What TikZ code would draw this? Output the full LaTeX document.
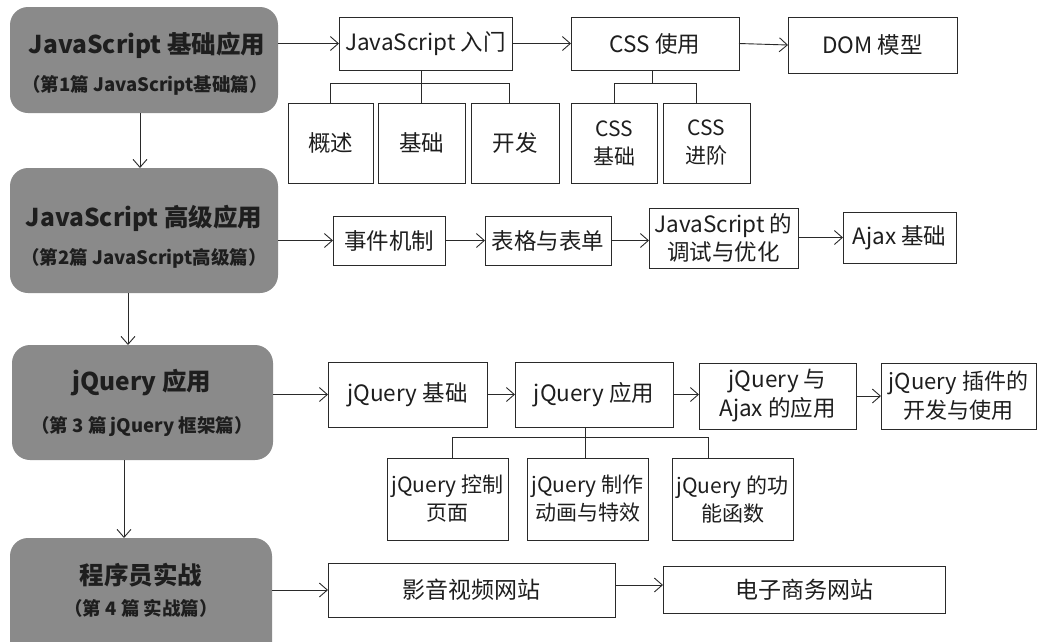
\documentclass[tikz,border=0pt]{standalone}
\usepackage{fontspec}
\setmainfont{Noto Sans CJK SC}
\usetikzlibrary{arrows.meta}
\definecolor{partgray}{HTML}{8A8A8A}
\definecolor{linec}{HTML}{2A2A2A}
\definecolor{txt}{HTML}{1E1E1E}
\tikzset{
  part/.style={rounded corners=18pt, fill=partgray, draw=none, inner sep=0pt, outer sep=0pt},
  ptexta/.style={text=txt, inner sep=0pt, font=\fontsize{24.5}{28}\bfseries},
  ptextb/.style={text=txt, inner sep=0pt, font=\fontsize{18.5}{22}\bfseries},
  wbox/.style={draw=linec, line width=0.9pt, fill=white, align=center, inner sep=0pt, outer sep=0pt, text=txt, font=\fontsize{22.5}{27}\selectfont},
  sbox/.style={wbox, font=\fontsize{21}{28}\selectfont},
  arr/.style={draw=linec, line width=0.9pt, -{Straight Barb[length=8pt,width=14pt,line width=0.9pt]}},
  ln/.style={draw=linec, line width=0.9pt}
}
\begin{document}
\begin{tikzpicture}[x=1pt,y=-1pt]
\useasboundingbox (0,0) rectangle (1037,641);
\fill[white] (0,0) rectangle (1037,641);

% part boxes
\node[part, minimum width=268pt, minimum height=106pt] (p1) at (144,60) {};
\node[ptexta] (p1a) at (147,45) {JavaScript 基础应用};
\node[ptextb] (p1b) at (145,85) {（第1篇 JavaScript基础篇）};
\node[part, minimum width=268pt, minimum height=125pt] (p2) at (144,230.5) {};
\node[ptexta] (p2a) at (144,218) {JavaScript 高级应用};
\node[ptextb] (p2b) at (144,258) {（第2篇 JavaScript高级篇）};
\node[part, minimum width=261pt, minimum height=115pt] (p3) at (142.5,402.5) {};
\node[ptexta] (p3a) at (142,383) {jQuery 应用};
\node[ptextb] (p3b) at (142,427) {（第 3 篇 jQuery 框架篇）};
\node[part, minimum width=262pt, minimum height=124pt] (p4) at (141,600) {};
\node[ptexta] (p4a) at (141,575) {程序员实战};
\node[ptextb] (p4b) at (141,608) {（第 4 篇 实战篇）};

\draw[arr] ([xshift=-4pt]p1.south) -- ([xshift=-4pt]p1.south |- p2.north);
\draw[arr] ([xshift=-16pt]p2.south) -- ([xshift=-16pt]p2.south |- p3.north);
\draw[arr] ([xshift=-18.5pt]p3.south) -- ([xshift=-18.5pt]p3.south |- p4.north);

% row 1
\node[wbox, minimum width=173pt, minimum height=53pt] (js) at (425.5,43.5) {JavaScript 入门};
\node[wbox, minimum width=168pt, minimum height=53pt] (css) at (655,43.5) {CSS 使用};
\node[wbox, minimum width=169pt, minimum height=56pt] (dom) at (872.5,45) {DOM 模型};
\node[wbox, minimum width=85pt, minimum height=80pt] (gs) at (330.5,143) {概述};
\node[wbox, minimum width=87pt, minimum height=80pt] (jc) at (421.5,143) {基础};
\node[wbox, minimum width=88pt, minimum height=80pt] (kf) at (515,143) {开发};
\node[sbox, minimum width=86pt, minimum height=80pt] (cj) at (614,143) {CSS\\基础};
\node[sbox, minimum width=87pt, minimum height=80pt] (cjj) at (706.5,143) {CSS\\进阶};
\coordinate (b1) at (0,83);

\draw[arr] (p1.east |- js.west) -- (js.west);
\draw[arr] (js.east) -- (css.west);
\draw[arr] (css.east) -- (dom.west);
\draw[ln] (jc.north |- js.south) -- (jc.north);
\draw[ln] (gs.north) |- ([xshift=-6pt]kf.north |- b1) -- ([xshift=-6pt]kf.north);
\draw[ln] ([xshift=-3pt]css.south) -- ([xshift=-3pt]css.south |- b1);
\draw[ln] (cj.north) |- ([xshift=-10.5pt]cjj.north |- b1) -- ([xshift=-10.5pt]cjj.north);

% row 2
\node[wbox, minimum width=112pt, minimum height=49pt] (sj) at (389,240.5) {事件机制};
\node[wbox, minimum width=126pt, minimum height=49pt] (bg) at (548,240.5) {表格与表单};
\node[wbox, minimum width=149pt, minimum height=60pt, font=\fontsize{22.5}{28}\selectfont] (ts) at (723.5,238) {JavaScript 的\\调试与优化};
\node[wbox, minimum width=113pt, minimum height=51pt] (aj) at (899.5,237.5) {Ajax 基础};
\draw[arr] (p2.east |- sj.west) -- (sj.west);
\draw[arr] (sj.east) -- (bg.west);
\draw[arr] (bg.east) -- (bg.east -| ts.west);
\draw[arr] (ts.east |- aj.west) -- (aj.west);

% row 3
\node[wbox, minimum width=159pt, minimum height=65pt] (jqjc) at (407.5,394.5) {jQuery 基础};
\node[wbox, minimum width=158pt, minimum height=65pt] (jqyy) at (594,394.5) {jQuery 应用};
\node[wbox, minimum width=157pt, minimum height=66pt, font=\fontsize{22.5}{29}\selectfont] (jqaj) at (777.5,396) {jQuery 与\\Ajax 的应用};
\node[wbox, minimum width=155pt, minimum height=66pt, font=\fontsize{22}{29}\selectfont] (jqcj) at (958.5,396) {jQuery 插件的\\开发与使用};
\draw[arr] (p3.east |- jqjc.west) -- (jqjc.west);
\draw[arr] (jqjc.east) -- (jqjc.east -| jqyy.west);
\draw[arr] (jqyy.east) -- (jqyy.east -| jqaj.west);
\draw[arr] (jqaj.east) -- (jqaj.east -| jqcj.west);

\node[sbox, minimum width=121pt, minimum height=82pt] (c1) at (447.5,499) {jQuery 控制\\页面};
\node[sbox, minimum width=121pt, minimum height=82pt] (c2) at (587.5,499) {jQuery 制作\\动画与特效};
\node[sbox, minimum width=121pt, minimum height=82pt] (c3) at (732.5,499) {jQuery 的功\\能函数};
\coordinate (b3) at (0,437);
\draw[ln] ([xshift=-9pt]jqyy.south) -- ([xshift=-9pt]jqyy.south |- c2.north);
\draw[ln] ([xshift=4.5pt]c1.north) |- ([xshift=-24.5pt]c3.north |- b3) -- ([xshift=-24.5pt]c3.north);

% row 4
\node[wbox, minimum width=287pt, minimum height=54pt, font=\fontsize{23}{27}\selectfont] (yy) at (471.5,590) {影音视频网站};
\node[wbox, minimum width=282pt, minimum height=47pt, font=\fontsize{23}{27}\selectfont] (dz) at (804,589.5) {电子商务网站};
\draw[arr] (p4.east |- yy.west) -- (yy.west);
\draw[arr] ([yshift=5pt]yy.east) -- ([yshift=5pt]yy.east -| dz.west);
\end{tikzpicture}
\end{document}
